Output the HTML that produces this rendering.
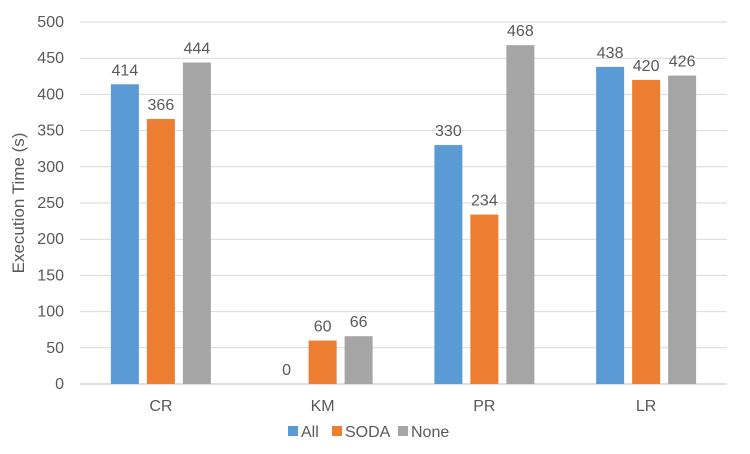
<!DOCTYPE html>
<html><head><meta charset="utf-8"><style>
body{margin:0;background:#fff;font-family:"Liberation Sans",sans-serif;}
svg text{font-family:"Liberation Sans",sans-serif;fill:#595959;}
</style></head><body>
<svg id="chart" width="750" height="449"></svg>
<script>
const categories=["CR","KM","PR","LR"];
const seriesNames=["All","SODA","None"];
const seriesColors=["#5b9bd5","#ed7d31","#a5a5a5"];
const allValues=[414,0,330,438];
const sodaValues=[366,60,234,420];
const noneValues=[444,66,468,426];
const yTicks=[0,50,100,150,200,250,300,350,400,450,500];
const series=[allValues,sodaValues,noneValues];
const NS="http://www.w3.org/2000/svg";
const svg=document.getElementById('chart');
const L=80,R=727,T=22,B=384,yMax=500;
const y=v=>B-(v/yMax)*(B-T);
const bw=(R-L)/categories.length;
const xc=i=>L+bw*(i+0.5);
function mk(t,a,p){const e=document.createElementNS(NS,t);for(const k in a)e.setAttribute(k,a[k]);(p||svg).appendChild(e);return e;}
yTicks.forEach(t=>{
 const g=mk('line',{x1:L,x2:R,y1:y(t),y2:y(t),stroke:t===0?'#bfbfbf':'#d9d9d9','stroke-width':1});
 
 
 const tx=mk('text',{x:64,y:y(t)+5,'text-anchor':'end','font-size':16});
 tx.textContent=t;
 
 
});
const barW=28,step=36;
categories.forEach((c,i)=>{
 series.forEach((s,j)=>{
  const cx=xc(i)+(j-1)*step;
  const v=s[i];
  const r=mk('rect',{x:cx-barW/2,y:y(v),width:barW,height:B-y(v),fill:seriesColors[j]});
  
  
  const lt=mk('text',{x:cx,y:y(v)-9,'text-anchor':'middle','font-size':16,fill:'#404040'});
  lt.textContent=v;
  
  
 });
 const ct=mk('text',{x:xc(i),y:411,'text-anchor':'middle','font-size':16});
 ct.textContent=c;
 
 
});
const yt=mk('text',{transform:'translate(24,203) rotate(-90)','text-anchor':'middle','font-size':17});
yt.textContent='Execution Time (s)';


const legX=[288,332,398];
seriesNames.forEach((n,j)=>{
 const g=mk('g',{});
 
 
 mk('rect',{x:legX[j],y:426,width:10,height:10,fill:seriesColors[j]},g);
 const t=mk('text',{x:legX[j]+13,y:437,'font-size':16},g);
 t.textContent=n;
});
</script>
</body></html>
